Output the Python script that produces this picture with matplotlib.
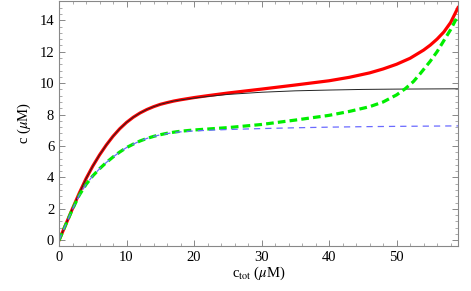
import matplotlib
matplotlib.use("Agg")
import matplotlib.pyplot as plt
from matplotlib.ticker import MultipleLocator

plt.rcParams['font.family'] = ['Liberation Serif', 'DejaVu Serif']
plt.rcParams['mathtext.fontset'] = 'stix'

# total concentration (red, solid thick)
x_red = [0, 1, 2, 3, 4, 5, 6, 7, 8, 9, 10, 11, 12, 13, 14, 15, 16, 17, 18, 19, 20,
         22, 25, 30, 35, 40, 43, 46, 48, 50, 52, 54, 55, 56, 57, 58, 59.1]
y_red = [0, 1.01, 2.02, 3.0, 3.92, 4.72, 5.43, 6.06, 6.62, 7.1, 7.5, 7.83, 8.1, 8.32, 8.5, 8.65, 8.76, 8.86, 8.94, 9.01, 9.08,
         9.2, 9.37, 9.62, 9.88, 10.15, 10.37, 10.65, 10.9, 11.2, 11.58, 12.1, 12.42, 12.8, 13.25, 13.85, 14.8]

# without saturation (black, thin solid)
x_blk = [0, 1, 2, 3, 4, 5, 6, 7, 8, 9, 10, 11, 12, 13, 14, 15, 16, 17, 18, 19, 20,
         22, 25, 30, 35, 40, 45, 50, 59.1]
y_blk = [0, 1.01, 2.02, 3.0, 3.92, 4.72, 5.43, 6.06, 6.62, 7.1, 7.5, 7.83, 8.1, 8.32, 8.5, 8.65, 8.76, 8.86, 8.93, 8.99, 9.05,
         9.15, 9.28, 9.42, 9.51, 9.56, 9.6, 9.62, 9.64]

# free concentration (green, dashed thick)
x_grn = [0, 1, 2, 3, 4, 5, 6, 7, 8, 9, 10, 11, 12, 13, 14, 15, 16, 17, 18, 20,
         22, 25, 30, 35, 40, 43, 46, 48, 50, 51.3, 52.5, 53.5, 55, 56, 57, 58, 59.1]
y_grn = [0, 1.0, 1.98, 2.87, 3.55, 4.1, 4.55, 4.95, 5.3, 5.62, 5.9, 6.12, 6.32, 6.48, 6.61, 6.72, 6.81, 6.88, 6.94, 7.02,
         7.08, 7.17, 7.37, 7.65, 7.95, 8.2, 8.5, 8.8, 9.25, 9.65, 10.1, 10.6, 11.4, 12.0, 12.7, 13.4, 14.3]

# free concentration without saturation (blue, thin dashed)
x_blu = [0, 1, 2, 3, 4, 5, 6, 7, 8, 9, 10, 11, 12, 13, 14, 15, 16, 17, 18, 20,
         22, 25, 30, 35, 40, 45, 50, 59.1]
y_blu = [0, 1.0, 1.98, 2.87, 3.55, 4.1, 4.55, 4.95, 5.3, 5.62, 5.9, 6.12, 6.32, 6.48, 6.61, 6.71, 6.79, 6.85, 6.9, 6.96,
         7.0, 7.05, 7.11, 7.16, 7.2, 7.23, 7.25, 7.28]

fig = plt.figure(figsize=(4.71, 2.91), dpi=100)
ax = fig.add_axes([59/471, 1 - 245.7/291, (458 - 59)/471, 245.7/291 - 0.002])

ax.plot(x_red, y_red, color='#ff0000', lw=2.3, solid_joinstyle='round')
ax.plot(x_blk, y_blk, color='#222222', lw=0.7)
ax.plot(x_grn, y_grn, color='#00ee00', lw=2.3, dashes=(2.4, 1.3))
ax.plot(x_blu, y_blu, color='#6a6aff', lw=0.9, dashes=(5, 4))

ax.set_xlim(0, 59.1)
ax.set_ylim(-0.34, 15.25)

ax.xaxis.set_major_locator(MultipleLocator(10))
ax.xaxis.set_minor_locator(MultipleLocator(2))
ax.yaxis.set_major_locator(MultipleLocator(2))
ax.yaxis.set_minor_locator(MultipleLocator(0.4))
ax.tick_params(which='both', direction='in', top=True, right=True, color='#888888', labelsize=10.5)
ax.tick_params(which='major', length=4, width=0.7)
ax.tick_params(which='minor', length=2, width=0.5)
for s in ax.spines.values():
    s.set_color('#888888')
    s.set_linewidth(0.8)

ax.set_xlabel(r'c$_{\rm tot}$ ($\mu$M)', fontsize=10.5, labelpad=1)
ax.set_ylabel(r'c ($\mu$M)', fontsize=10.5, labelpad=5)

fig.savefig('out.png', dpi=100)
